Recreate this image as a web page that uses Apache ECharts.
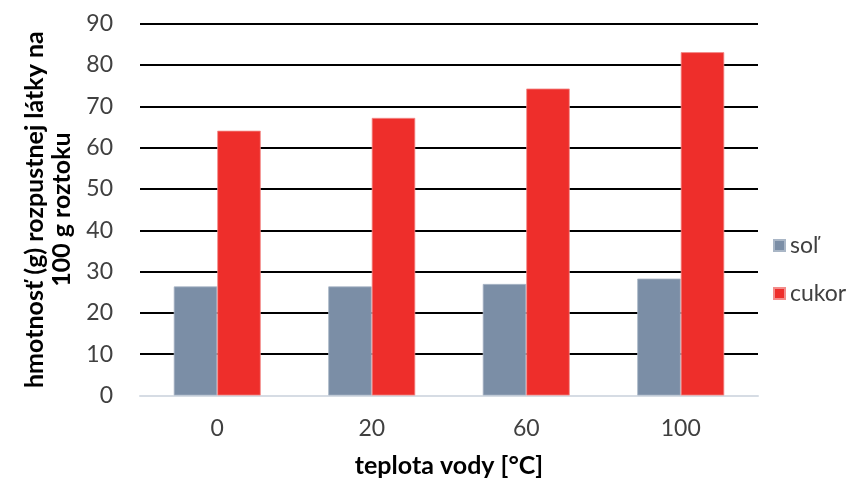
<!DOCTYPE html>
<html>
<head>
<meta charset="utf-8">
<script src="https://cdn.jsdelivr.net/npm/echarts@6/dist/echarts.min.js"></script>
<style>
  html, body { margin: 0; padding: 0; background: #fff; }
  #chart { width: 853px; height: 484px; }
</style>
</head>
<body>
<div id="chart"></div>
<script>
// Water temperature categories (°C)
const categories = ['0', '20', '60', '100'];
// Mass of dissolved substance per 100 g of solution
const salt = [26.4, 26.4, 27.0, 28.3];
const sugar = [64.1, 67.2, 74.3, 83.1];
const seriesNames = ['soľ', 'cukor'];

const FONT = 'Lato, "Open Sans", sans-serif';

const chart = echarts.init(document.getElementById('chart'), null, { renderer: 'canvas' });

chart.setOption({
  animation: false,
  textStyle: { fontFamily: FONT },
  grid: { left: 140, right: 95, top: 23.7, bottom: 88.5, containLabel: false },
  legend: {
    orient: 'vertical',
    left: 768,
    top: 229,
    itemWidth: 11,
    itemHeight: 11,
    itemGap: 25,
    icon: 'rect',
    textStyle: { fontSize: 23, color: '#404040', fontFamily: FONT },
    data: seriesNames
  },
  xAxis: {
    type: 'category',
    data: categories,
    name: 'teplota vody [°C]',
    nameLocation: 'middle',
    nameGap: 58,
    nameTextStyle: { fontSize: 25, fontWeight: 'bold', color: '#000', fontFamily: FONT },
    axisLine: { show: true, lineStyle: { color: '#d6dce4', width: 2 } },
    axisTick: { show: false },
    axisLabel: { fontSize: 23, color: '#404040', margin: 22, fontFamily: FONT }
  },
  yAxis: {
    type: 'value',
    min: 0,
    max: 90,
    interval: 10,
    name: 'hmotnosť (g) rozpustnej látky na\n100 g roztoku',
    nameLocation: 'middle',
    nameRotate: 90,
    nameGap: 65,
    nameTextStyle: { fontSize: 25, fontWeight: 'bold', color: '#000', lineHeight: 27, fontFamily: FONT },
    axisLine: { show: false },
    axisTick: { show: false },
    axisLabel: { fontSize: 23, color: '#404040', margin: 27, fontFamily: FONT },
    splitLine: { show: true, lineStyle: { color: '#000', width: 2 } }
  },
  series: [
    {
      name: seriesNames[0],
      type: 'bar',
      data: salt,
      barGap: '0%',
      barCategoryGap: '43.7%',
      itemStyle: { color: '#7b8ea6', borderColor: '#a9b6c6', borderWidth: 0.8 }
    },
    {
      name: seriesNames[1],
      type: 'bar',
      data: sugar,
      barGap: '0%',
      barCategoryGap: '43.7%',
      itemStyle: { color: '#ee2e2b', borderColor: '#f38c8a', borderWidth: 0.8 }
    }
  ]
});
</script>
</body>
</html>
